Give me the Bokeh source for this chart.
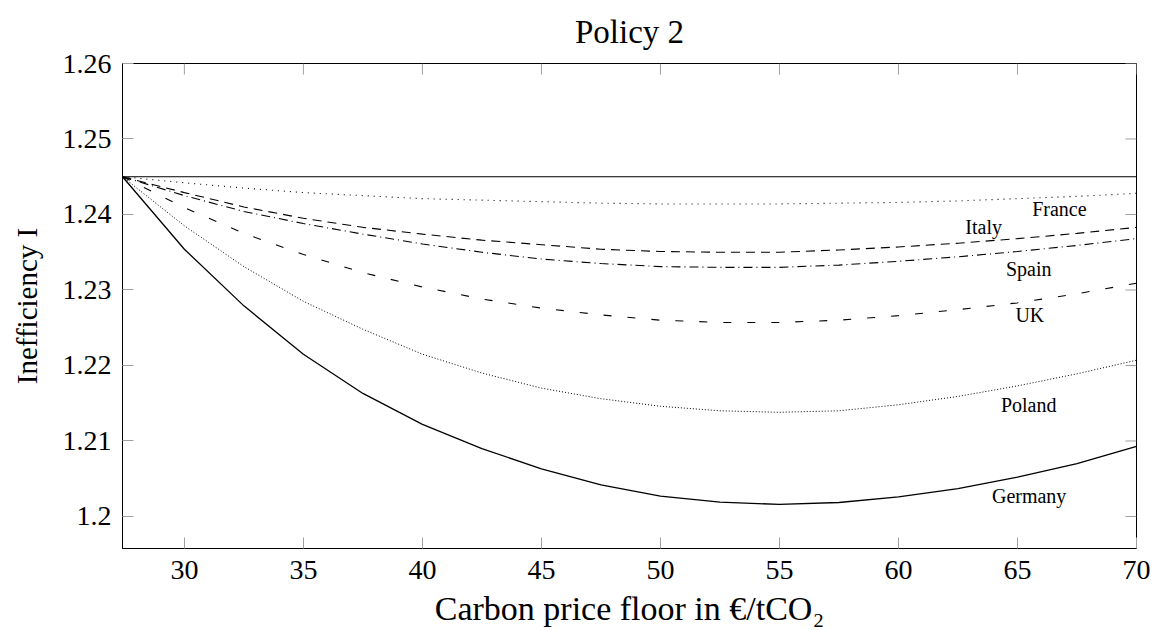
import math
from bokeh.plotting import figure
from bokeh.models import FixedTicker, Label, Range1d, CustomJSTickFormatter
from bokeh.embed import file_html
from bokeh.resources import INLINE

# ---- data ----
price = [27.4, 30, 32.5, 35, 37.5, 40, 42.5, 45, 47.5, 50, 52.5, 55, 57.5, 60, 62.5, 65, 67.5, 70]
baseline_x = [27.4, 70]
baseline_y = [1.245, 1.245]
france = [1.2450, 1.2442, 1.2435, 1.2429, 1.2425, 1.2421, 1.2419, 1.2417, 1.2415, 1.2414, 1.2414, 1.2414, 1.2415, 1.2416, 1.2418, 1.2421, 1.2424, 1.2428]
italy = [1.2450, 1.2429, 1.2410, 1.2395, 1.2383, 1.2374, 1.2366, 1.2360, 1.2354, 1.2351, 1.2350, 1.2350, 1.2353, 1.2357, 1.2362, 1.2368, 1.2375, 1.2383]
spain = [1.2450, 1.2425, 1.2404, 1.2388, 1.2374, 1.2361, 1.2350, 1.2341, 1.2335, 1.2331, 1.2330, 1.2330, 1.2333, 1.2338, 1.2344, 1.2351, 1.2359, 1.2368]
uk = [1.2450, 1.2409, 1.2375, 1.2347, 1.2323, 1.2304, 1.2288, 1.2276, 1.2267, 1.2260, 1.2257, 1.2257, 1.2260, 1.2266, 1.2274, 1.2283, 1.2295, 1.2309]
poland = [1.2450, 1.2385, 1.2331, 1.2285, 1.2248, 1.2215, 1.2190, 1.2170, 1.2156, 1.2146, 1.2140, 1.2138, 1.2140, 1.2148, 1.2159, 1.2173, 1.2189, 1.2207]
germany = [1.2450, 1.2354, 1.2279, 1.2215, 1.2163, 1.2122, 1.2090, 1.2063, 1.2042, 1.2027, 1.2019, 1.2016, 1.20185, 1.2026, 1.2037, 1.2052, 1.2070, 1.2093]

label_names = ["France", "Italy", "Spain", "UK", "Poland", "Germany"]
label_x = [66.76, 63.58, 65.47, 65.52, 65.47, 65.49]
label_y = [1.24067, 1.23836, 1.23284, 1.22664, 1.21471, 1.20277]

x_ticks = [30, 35, 40, 45, 50, 55, 60, 65, 70]
y_ticks = [1.20, 1.21, 1.22, 1.23, 1.24, 1.25, 1.26]
x_min, x_max = 27.4, 70
y_min, y_max = 1.19576, 1.26

FONT = "Liberation Serif"
TICK_COLOR = "#a0a0a0"

p = figure(width=1160, height=630,
           x_range=Range1d(x_min, x_max), y_range=Range1d(y_min, y_max),
           output_backend="svg", toolbar_location=None,
           min_border_left=122, min_border_right=24, min_border_top=63, min_border_bottom=82,
           x_axis_label="Carbon price floor in \u20ac/tCO\u2082",
           y_axis_label="Inefficiency I")

p.title.text = "Policy 2"
p.title.align = "center"
p.title.vertical_align = "top"
p.title.text_font = FONT
p.title.text_font_size = "33px"
p.title.text_font_style = "normal"
p.title.text_color = "black"
p.title.standoff = 24

p.grid.visible = False
p.outline_line_color = "black"
p.outline_line_width = 1
p.background_fill_color = "white"
p.border_fill_color = "white"

for ax in (p.xaxis[0], p.yaxis[0]):
    ax.major_tick_in = 11
    ax.major_tick_out = 0
    ax.minor_tick_in = 0
    ax.minor_tick_out = 0
    ax.major_tick_line_color = TICK_COLOR
    ax.major_tick_line_width = 1
    ax.axis_line_color = "black"
    ax.axis_line_width = 1
    ax.major_label_text_font = FONT
    ax.major_label_text_font_size = "28px"
    ax.major_label_text_color = "black"
    ax.axis_label_text_font = FONT
    ax.axis_label_text_font_style = "normal"
    ax.axis_label_text_color = "black"

xa = p.xaxis[0]
xa.ticker = FixedTicker(ticks=x_ticks)
xa.major_label_standoff = 12
xa.axis_label_standoff = 8
xa.axis_label_text_font_size = "34px"

ya = p.yaxis[0]
ya.ticker = FixedTicker(ticks=y_ticks)
ya.formatter = CustomJSTickFormatter(code="return tick.toFixed(2).replace(/0+$/, '');")
ya.major_label_standoff = 11
ya.axis_label_standoff = 17
ya.axis_label_text_font_size = "29px"

# mirrored inner ticks on the top and right frame edges
p.ray(x=x_ticks, y=[y_max] * len(x_ticks), length=11, length_units="screen",
      angle=-math.pi / 2, line_color=TICK_COLOR, line_width=1)
p.ray(x=[x_max] * len(y_ticks), y=y_ticks, length=11, length_units="screen",
      angle=math.pi, line_color=TICK_COLOR, line_width=1)

# ---- series ----
p.line(baseline_x, baseline_y, line_color="black", line_width=1)
p.line(price, france, line_color="black", line_width=1.1, line_dash="1 5")
p.line(price, italy, line_color="black", line_width=1.1, line_dash="9 6")
p.line(price, spain, line_color="black", line_width=1.1, line_dash="9 4 1 4")
p.line(price, uk, line_color="black", line_width=1.1, line_dash="8 16")
p.line(price, poland, line_color="black", line_width=1, line_dash="1 2")
p.line(price, germany, line_color="black", line_width=1.3)

for name, lx, ly in zip(label_names, label_x, label_y):
    p.add_layout(Label(x=lx, y=ly, text=name, text_font=FONT, text_font_size="20px",
                       text_color="black", text_align="center", text_baseline="middle"))

open("out.html", "w").write(file_html(p, INLINE))
